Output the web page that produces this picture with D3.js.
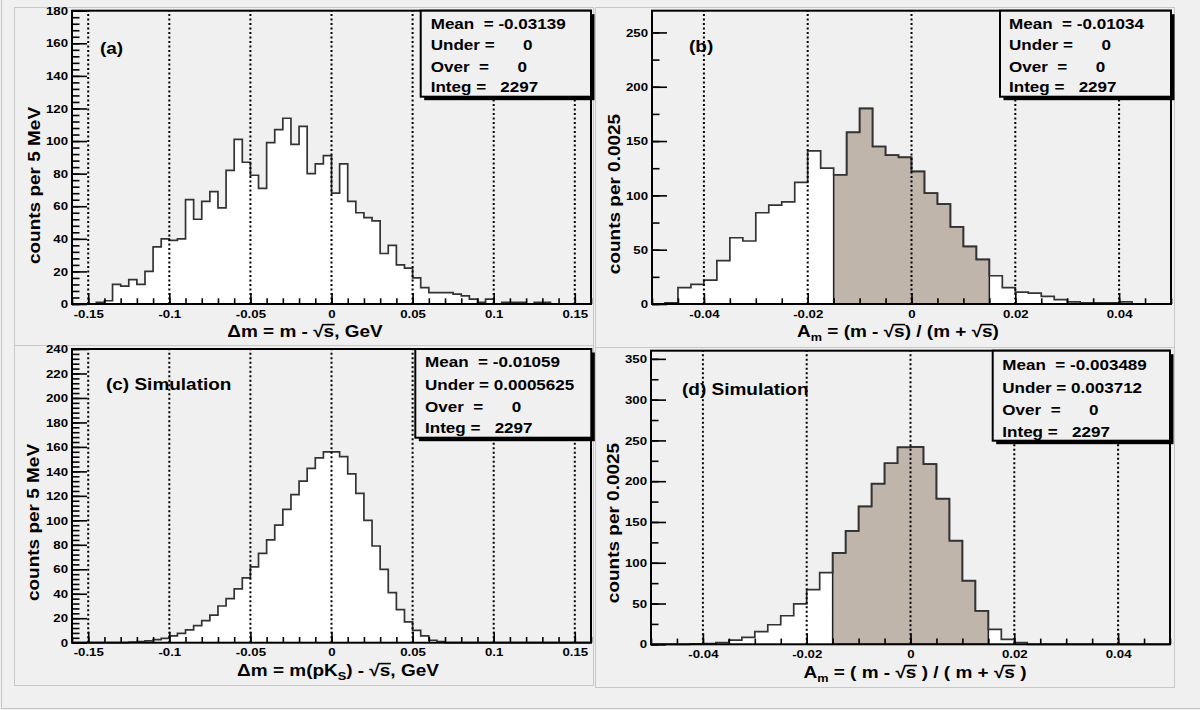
<!DOCTYPE html>
<html>
<head>
<meta charset="utf-8">
<script src="https://cdn.jsdelivr.net/npm/d3@7"></script>
<style>
  body { margin: 0; background: #f0f0f0; }
  svg text { font-family: "Liberation Sans", Arial, Helvetica, sans-serif; font-weight: bold; fill: #000; }
</style>
</head>
<body>
<script>
// bin contents
const countsA = [0,0,0,1,2,12,11,15,
  12,20,35,40,39,40,64,52,
  63,69,59,82,101,87,79,71,
  99,107,114,98,109,80,86,91,
  68,86,63,56,53,51,31,36,
  24,22,16,10,7,7,7,6,
  5,3,1,3,0,1,1,1,
  0,1,1,0,0,0,0,0];
const countsB = [0,1,15,18,22,40,61,58,
  84,91,94,112,141,125,119,158,
  180,145,137,135,122,102,92,71,
  53,41,26,15,11,10,7,4,
  2,1,1,1,2,0,0,0];
const countsC = [0,0,0,0,0,0,0,0.5,
  1,1.5,2.5,3.5,5.5,7.6,10.4,14,
  18,22.6,30,36,44,53,62,73,
  84,96,109,121,132,142.5,151,156,
  156,152,138,122,100,79,60,41,
  27,17,10,5.5,2,1,0,0,
  0,0,0,0,0,0,0,0,
  0,0,0,0,0,0,0,0];
const countsD = [0,0,0,0.4,0.8,2,5,8.6,
  15.5,24,35,49.5,67,88,112,139,
  169,197,222,241.5,242,221,178.5,127,
  78,41,18.4,6,2,0,0,0,
  0,0,0,0,0,0,0,0];

const rangeWide = [-0.16, 0.16];
const rangeNarrow = [-0.05, 0.05];
const shadeRange = [-0.015, 0.015];

const xTicksWide = [-0.15, -0.1, -0.05, 0, 0.05, 0.1, 0.15];
const xTicksNarrow = [-0.04, -0.02, 0, 0.02, 0.04];
const yTicksA = [0, 20, 40, 60, 80, 100, 120, 140, 160, 180];
const yTicksB = [0, 50, 100, 150, 200, 250];
const yTicksC = [0, 20, 40, 60, 80, 100, 120, 140, 160, 180, 200, 220, 240];
const yTicksD = [0, 50, 100, 150, 200, 250, 300, 350];

const statsA = ["Mean  = -0.03139", "Under =      0", "Over  =      0", "Integ =   2297"];
const statsB = ["Mean  = -0.01034", "Under =      0", "Over  =      0", "Integ =   2297"];
const statsC = ["Mean  = -0.01059", "Under = 0.0005625", "Over  =      0", "Integ =   2297"];
const statsD = ["Mean  = -0.003489", "Under = 0.003712", "Over  =      0", "Integ =   2297"];

const W = 1200, H = 710;
const bg = "#f0f0f0";

const svg = d3.select("body").append("svg")
  .attr("width", W).attr("height", H);

svg.append("rect").attr("width", W).attr("height", H).attr("fill", bg);
svg.append("line").attr("x1", 1.5).attr("x2", 1.5).attr("y1", 0).attr("y2", 708.5)
  .attr("stroke", "#c4c4c4");
svg.append("line").attr("x1", 1.5).attr("x2", W).attr("y1", 708.5).attr("y2", 708.5)
  .attr("stroke", "#c4c4c4");

// pad outlines
[[14, 7, 593, 345], [595, 7, 1174, 347], [14, 345, 593, 685], [595, 347, 1174, 687]]
  .forEach(function (p) {
    svg.append("rect").attr("x", p[0] + 0.5).attr("y", p[1] + 0.5)
      .attr("width", p[2] - p[0]).attr("height", p[3] - p[1])
      .attr("fill", "none").attr("stroke", "#c8c8c8");
  });

const panels = [
  { vals: countsA, xDom: rangeWide, yDom: [0, 180], f: [72, 10.7, 591, 304],
    xTicks: xTicksWide, xMinor: d3.range(-16, 17).map(i => i * 0.01),
    yTicks: yTicksA, yMinor: d3.range(0, 181, 4),
    stats: statsA, box: [420.7, 10.7, 591, 96.7], statX: 430.7, statY: [28.5, 50, 71.7, 92.3],
    label: "(a)", labelPos: [100, 54],
    yTitle: "counts per 5 MeV", yTitlePos: [40, 185.5],
    xTitle: [{ t: "Δm = m - √s, GeV" }], xTitlePos: [305, 337] },
  { vals: countsB, xDom: rangeNarrow, yDom: [0, 270], f: [652, 10.7, 1171, 304], shade: shadeRange,
    xTicks: xTicksNarrow, xMinor: d3.range(-10, 11).map(i => i * 0.005),
    yTicks: yTicksB, yMinor: d3.range(0, 271, 25),
    stats: statsB, box: [1000, 10.7, 1171, 96.7], statX: 1009, statY: [28.5, 50, 71.7, 92.3],
    label: "(b)", labelPos: [689, 52],
    yTitle: "counts per 0.0025", yTitlePos: [620, 194],
    xTitle: [{ t: "A" }, { t: "m", sub: true }, { t: " = (m - √s) / (m + √s)" }], xTitlePos: [898, 337] },
  { vals: countsC, xDom: rangeWide, yDom: [0, 240], f: [72, 349, 591, 642.7],
    xTicks: xTicksWide, xMinor: d3.range(-16, 17).map(i => i * 0.01),
    yTicks: yTicksC, yMinor: d3.range(0, 241, 4),
    stats: statsC, box: [415.3, 349, 591.3, 437.7], statX: 425, statY: [366.7, 389.5, 411.7, 432.7],
    label: "(c) Simulation", labelPos: [106, 390],
    yTitle: "counts per 5 MeV", yTitlePos: [39, 522.5],
    xTitle: [{ t: "Δm = m(pK" }, { t: "S", sub: true }, { t: ") - √s, GeV" }], xTitlePos: [338, 676] },
  { vals: countsD, xDom: rangeNarrow, yDom: [0, 360], f: [651, 350.7, 1170, 644.3], shade: shadeRange,
    xTicks: xTicksNarrow, xMinor: d3.range(-10, 11).map(i => i * 0.005),
    yTicks: yTicksD, yMinor: d3.range(0, 361, 25),
    stats: statsD, box: [992.7, 350.7, 1170, 440.7], statX: 1002.3, statY: [370, 392.7, 415, 436.7],
    label: "(d) Simulation", labelPos: [682, 395],
    yTitle: "counts per 0.0025", yTitlePos: [619, 523],
    xTitle: [{ t: "A" }, { t: "m", sub: true }, { t: " = ( m - √s ) / ( m + √s )" }], xTitlePos: [915, 678] }
];

const xTitles = [];

panels.forEach(function (p) {
  const [fx0, fy0, fx1, fy1] = p.f;
  const x = d3.scaleLinear().domain(p.xDom).range([fx0, fx1]);
  const y = d3.scaleLinear().domain(p.yDom).range([fy1, fy0]);
  const g = svg.append("g");

  const n = p.vals.length;
  const bw = (p.xDom[1] - p.xDom[0]) / n;
  const pts = p.vals.map((v, i) => ({ e: p.xDom[0] + i * bw, v: v }));
  pts.push({ e: p.xDom[1], v: p.vals[n - 1] });

  const area = d3.area().curve(d3.curveStepAfter)
    .x(d => x(d.e)).y0(y(0)).y1(d => y(d.v));
  const line = d3.line().curve(d3.curveStepAfter)
    .x(d => x(d.e)).y(d => y(d.v));

  g.append("path").attr("d", area(pts)).attr("fill", "#fff");

  if (p.shade) {
    const sp = [];
    p.vals.forEach(function (v, i) {
      const e = p.xDom[0] + i * bw;
      if (e >= p.shade[0] - 1e-9 && e < p.shade[1] - 1e-9) sp.push({ e: e, v: v });
    });
    sp.push({ e: p.shade[1], v: sp[sp.length - 1].v });
    g.append("path").attr("d", area(sp))
      .attr("fill", "#bfb5ab").attr("stroke", "#222").attr("stroke-width", 1.5);
  }

  g.append("path").attr("d", line(pts))
    .attr("fill", "none").attr("stroke", "#333").attr("stroke-width", 1.7);

  // dotted grid at the major x ticks
  g.selectAll(".grid").data(p.xTicks).enter().append("line")
    .attr("x1", d => x(d)).attr("x2", d => x(d))
    .attr("y1", y(p.yDom[0])).attr("y2", y(p.yDom[1]))
    .attr("stroke", "#000").attr("stroke-width", 2)
    .attr("stroke-dasharray", "2,2.5");

  // ticks inside the frame
  const tk = function (axis, tr, size, vals) {
    const a = g.append("g").attr("transform", tr)
      .call(axis.tickValues(vals).tickSize(size).tickFormat(""));
    a.select(".domain").remove();
    a.selectAll("line").attr("stroke", "#000").attr("stroke-width", 1.6);
  };
  tk(d3.axisRight(y), `translate(${fx0},0)`, 7.5, p.yMinor);
  tk(d3.axisRight(y), `translate(${fx0},0)`, 15, p.yTicks);
  tk(d3.axisTop(x), `translate(0,${fy1})`, 5.7, p.xMinor);
  tk(d3.axisTop(x), `translate(0,${fy1})`, 11, p.xTicks);

  const yl = g.append("g").attr("transform", `translate(${fx0},0)`)
    .call(d3.axisLeft(y).tickValues(p.yTicks).tickSize(0).tickPadding(4).tickFormat(d => String(d)));
  yl.select(".domain").remove();
  yl.selectAll("text").attr("font-size", 11.5);

  const xl = g.append("g").attr("transform", `translate(0,${fy1})`)
    .call(d3.axisBottom(x).tickValues(p.xTicks).tickSize(0).tickPadding(5.5).tickFormat(d => String(d)));
  xl.select(".domain").remove();
  xl.selectAll("text").attr("font-size", 11.5);

  // frame
  g.append("rect").attr("x", fx0).attr("y", fy0)
    .attr("width", fx1 - fx0).attr("height", fy1 - fy0)
    .attr("fill", "none").attr("stroke", "#000").attr("stroke-width", 2);

  // stats box
  const [bx0, by0, bx1, by1] = p.box;
  g.append("rect").attr("x", bx0 + 3.5).attr("y", by0 + 3.5)
    .attr("width", bx1 - bx0).attr("height", by1 - by0).attr("fill", "#000");
  g.append("rect").attr("x", bx0).attr("y", by0)
    .attr("width", bx1 - bx0).attr("height", by1 - by0)
    .attr("fill", bg).attr("stroke", "#000").attr("stroke-width", 2);
  g.selectAll(".stat").data(p.stats).enter().append("text")
    .attr("class", "stat")
    .attr("x", p.statX).attr("y", (d, i) => p.statY[i])
    .attr("font-size", 15.5)
    .style("white-space", "pre")
    .text(d => d);

  g.append("text").attr("x", p.labelPos[0]).attr("y", p.labelPos[1])
    .attr("font-size", 16.5).text(p.label);

  g.append("text")
    .attr("transform", `translate(${p.yTitlePos[0]},${p.yTitlePos[1]}) rotate(-90)`)
    .attr("text-anchor", "middle").attr("font-size", 16.5)
    .text(p.yTitle);

  const xt = g.append("text").attr("x", p.xTitlePos[0]).attr("y", p.xTitlePos[1])
    .attr("text-anchor", "middle").attr("font-size", 16.5)
    .style("white-space", "pre");
  p.xTitle.forEach(function (s, i) {
    const ts = xt.append("tspan").text(s.t);
    if (s.sub) ts.attr("font-size", 11).attr("dy", 4);
    else if (i > 0 && p.xTitle[i - 1].sub) ts.attr("dy", -4);
  });
  xTitles.push({ sel: xt, base: p.xTitlePos[1], g: g });
});

// the original glyphs are wider than Arial: stretch every label along its run
svg.selectAll("text").each(function () {
  const k = this.classList.contains("stat") ? 1.1 : 1.15;
  const len = this.getComputedTextLength();
  d3.select(this).attr("textLength", len * k).attr("lengthAdjust", "spacingAndGlyphs");
});

// bar over the s under each square root
xTitles.forEach(function (o) {
  const node = o.sel.node();
  const str = node.textContent;
  for (let k = 0; k < str.length; k++) {
    if (str[k] !== "√") continue;
    const a = node.getExtentOfChar(k), b = node.getExtentOfChar(k + 1);
    const yy = o.base - 12.4;
    o.g.append("line")
      .attr("x1", a.x + a.width - 1).attr("x2", b.x + b.width + 0.5)
      .attr("y1", yy).attr("y2", yy)
      .attr("stroke", "#000").attr("stroke-width", 1.6);
  }
});
</script>
</body>
</html>
